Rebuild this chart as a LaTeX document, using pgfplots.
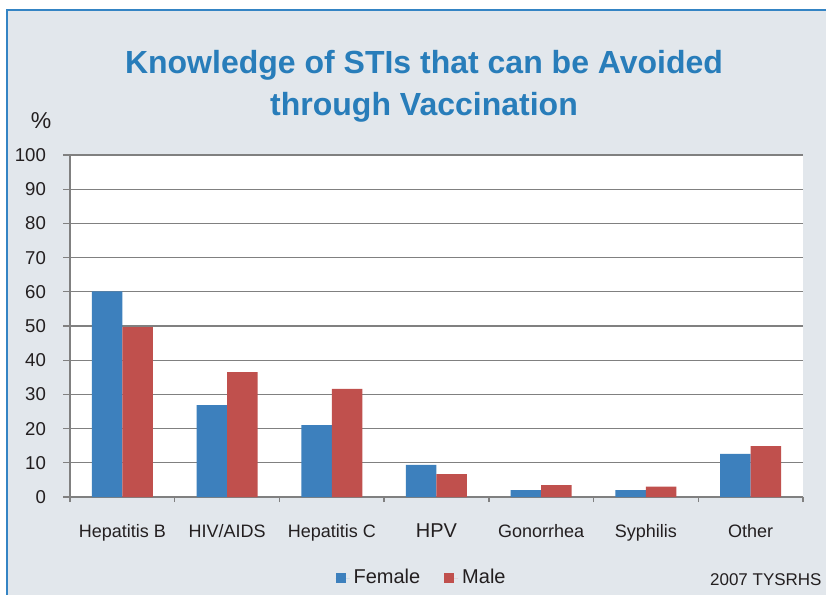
\documentclass[border=0pt]{standalone}
\usepackage{fontspec}
\setmainfont{Liberation Sans}
\usepackage{pgfplots}
\pgfplotsset{compat=1.18}
\definecolor{bgc}{RGB}{226,231,236}
\definecolor{framec}{RGB}{52,132,196}
\definecolor{titlec}{RGB}{40,125,186}
\definecolor{femc}{RGB}{61,128,189}
\definecolor{malc}{RGB}{192,80,77}
\definecolor{gridc}{RGB}{128,128,128}
\definecolor{txtc}{RGB}{35,31,32}
\begin{document}
\begin{tikzpicture}[x=0.5pt,y=-0.5pt]
\useasboundingbox (0,0) rectangle (826,595);
\fill[bgc] (7,10) rectangle (826,595);
\draw[framec,line width=0.8pt] (7,595) -- (7,10) -- (826,10);
\node[anchor=base,font=\bfseries\fontsize{16}{19}\selectfont,text=titlec] at (424,73) {Knowledge of STIs that can be Avoided};
\node[anchor=base,font=\bfseries\fontsize{16}{19}\selectfont,text=titlec] at (424,115) {through Vaccination};
\node[anchor=base,font=\fontsize{11.5}{13}\selectfont,text=txtc] at (41,128) {\%};
\node[anchor=base east,font=\fontsize{8.5}{10}\selectfont,text=txtc,inner sep=0pt] at (822,585) {2007 TYSRHS};
\begin{axis}[
  at={(35pt,-248.5pt)}, anchor=south west,
  scale only axis, width=366.5pt, height=171pt,
  axis background/.style={fill=white},
  ybar=0pt, bar width=15.25pt,
  xmin=-0.5, xmax=6.5, ymin=0, ymax=100,
  xtick={0,...,6},
  xticklabels={Hepatitis B,HIV/AIDS,Hepatitis C,{\fontsize{10}{12}\selectfont HPV},Gonorrhea,Syphilis,Other},
  minor xtick={-0.5,0.5,...,6.5},
  ytick={0,10,...,100},
  /pgf/number format/assume math mode=true,
  axis lines*=left,
  axis line style={draw=gridc,line width=0.65pt},
  ymajorgrids, major grid style={draw=gridc,line width=0.65pt},
  tick align=outside,
  major x tick style={draw=none},
  minor x tick style={draw=gridc,line width=0.65pt},
  major y tick style={draw=gridc,line width=0.65pt},
  major tick length=3.5pt, minor tick length=2.5pt,
  tick label style={font=\fontsize{9}{11}\selectfont,text=txtc},
  xticklabel style={anchor=base,yshift=-16.75pt},
  yticklabel style={font=\fontsize{9.3}{11}\selectfont,anchor=east,xshift=-5pt},
  clip=false,
  legend columns=2,
  legend style={at={(0.481,-0.237)},anchor=center,draw=none,fill=none,
    font=\fontsize{10}{12}\selectfont,text=txtc,
    /tikz/every even column/.append style={column sep=10pt}},
]
\addplot[fill=femc,draw=none,legend image code/.code={\fill[femc] (0pt,-2.5pt) rectangle (5pt,2.5pt); \path (0pt,0pt) -- (7pt,0pt);}]
  coordinates {(0,60.1) (1,26.9) (2,21.0) (3,9.4) (4,2.0) (5,2.0) (6,12.6)};
\addplot[fill=malc,draw=none,legend image code/.code={\fill[malc] (0pt,-2.5pt) rectangle (5pt,2.5pt); \path (0pt,0pt) -- (7pt,0pt);}]
  coordinates {(0,49.7) (1,36.5) (2,31.6) (3,6.7) (4,3.5) (5,3.0) (6,14.9)};
\legend{Female,Male}
\end{axis}
\end{tikzpicture}
\end{document}
